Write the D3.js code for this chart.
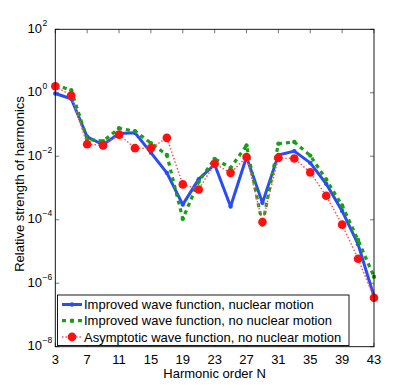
<!DOCTYPE html>
<html>
<head>
<meta charset="UTF-8">
<script src="https://d3js.org/d3.v7.min.js"></script>
<style>
  body { margin: 0; background: #fff; }
  svg text { font-family: "Liberation Sans", Arial, sans-serif; fill: #000; }
</style>
</head>
<body>
<div id="chart"></div>
<script>
// harmonic orders (odd)
const orders = [3,5,7,9,11,13,15,17,19,21,23,25,27,29,31,33,35,37,39,41,43];

// Improved wave function, nuclear motion
const blueVals = [0.95,0.65,0.041,0.023,0.052,0.055,0.013,0.003,3.0e-4,1.9e-3,5.5e-3,2.6e-4,9.5e-3,3.4e-4,0.011,0.0145,6.2e-3,1.35e-3,1.9e-4,1.7e-5,3.8e-7];
// Improved wave function, no nuclear motion
const greenVals = [1.8,1.2,0.034,0.03,0.076,0.062,0.026,0.011,1.07e-4,1.6e-3,8.3e-3,4.3e-3,0.022,7.0e-5,0.025,0.028,0.0105,1.85e-3,2.8e-4,2.3e-5,1.6e-6];
// Asymptotic wave function, no nuclear motion
const redVals = [1.6,0.82,0.024,0.022,0.048,0.018,0.018,0.038,1.3e-3,9.0e-4,5.8e-3,3.0e-3,9.5e-3,8.5e-5,8.9e-3,8.5e-3,3.1e-3,5.7e-4,7.0e-5,5.9e-6,3.5e-7];

const xTicks = [3,7,11,15,19,23,27,31,35,39,43];
const yExps = [2,0,-2,-4,-6,-8];
const legendLabels = [
  "Improved wave function, nuclear motion",
  "Improved wave function, no nuclear motion",
  "Asymptotic wave function, no nuclear motion"
];

const width = 415, height = 392;
const margin = {left: 55.3, right: 41, top: 29.3, bottom: 45.3};
const fs = 13;

const svg = d3.select("#chart").append("svg")
  .attr("width", width).attr("height", height);

const x = d3.scaleLinear().domain([3, 43]).range([margin.left, width - margin.right]);
const y = d3.scaleLog().domain([1e-8, 1e2]).range([height - margin.bottom, margin.top]);

const x0 = x.range()[0], x1 = x.range()[1];
const y0 = y.range()[0], y1 = y.range()[1];

// ticks (inside, on all four sides)
const tl = 4;
const ticks = svg.append("g").attr("stroke", "#555").attr("stroke-width", 0.8);
xTicks.forEach(t => {
  ticks.append("line").attr("x1", x(t)).attr("x2", x(t)).attr("y1", y0).attr("y2", y0 - tl);
  ticks.append("line").attr("x1", x(t)).attr("x2", x(t)).attr("y1", y1).attr("y2", y1 + tl);
});
yExps.forEach(e => {
  const v = Math.pow(10, e);
  ticks.append("line").attr("x1", x0).attr("x2", x0 + tl).attr("y1", y(v)).attr("y2", y(v));
  ticks.append("line").attr("x1", x1).attr("x2", x1 - tl).attr("y1", y(v)).attr("y2", y(v));
});

// tick labels
svg.append("g").selectAll("text").data(xTicks).join("text")
  .attr("x", d => x(d)).attr("y", y0 + 17)
  .attr("text-anchor", "middle").attr("font-size", fs)
  .text(d => d);

const yl = svg.append("g");
yExps.forEach(e => {
  const by = y(Math.pow(10, e)) + 3.6;
  yl.append("text").attr("x", 42).attr("y", by)
    .attr("text-anchor", "end").attr("font-size", fs).text("10");
  yl.append("text").attr("x", 42.5).attr("y", by - 7.2)
    .attr("font-size", 8.5).text(String(e).replace("-", "\u2212"));
});

// axis titles
svg.append("text").attr("x", (x0 + x1) / 2).attr("y", y0 + 31)
  .attr("text-anchor", "middle").attr("font-size", fs).text("Harmonic order N");
svg.append("text")
  .attr("transform", `translate(24,184) rotate(-90)`)
  .attr("text-anchor", "middle").attr("font-size", fs)
  .text("Relative strength of harmonics");

const plot = svg.append("g");

const line = d3.line().x(d => x(d[0])).y(d => y(d[1]));
const series = [
  {vals: blueVals, color: "#2a4cf5", width: 3, dash: null, r: 2.2},
  {vals: greenVals, color: "#1a9e1a", width: 3.2, dash: "4,4", r: 2.2},
  {vals: redVals, color: "#ff5555", width: 1.5, dash: "1.5,2", r: 4.3, fill: "#ff1010"}
];
series.forEach(s => {
  const pts = orders.map((o, i) => [o, s.vals[i]]);
  plot.append("path").datum(pts)
    .attr("d", line).attr("fill", "none")
    .attr("stroke", s.color).attr("stroke-width", s.width)
    .attr("stroke-dasharray", s.dash)
    .attr("stroke-linejoin", "round");
  plot.selectAll(null).data(pts).join("circle")
    .attr("cx", d => x(d[0])).attr("cy", d => y(d[1])).attr("r", s.r)
    .attr("fill", s.fill || s.color);
});

// frame
svg.append("rect").attr("x", x0).attr("y", y1)
  .attr("width", x1 - x0).attr("height", y0 - y1)
  .attr("fill", "none").attr("stroke", "#000").attr("stroke-width", 0.9);

// legend
const lg = svg.append("g");
lg.append("rect").attr("x", 57.5).attr("y", 295).attr("width", 291.5).attr("height", 50.5)
  .attr("fill", "#fff").attr("stroke", "#000").attr("stroke-width", 0.9);
legendLabels.forEach((lab, i) => {
  const s = series[i];
  const ly = 304.5 + i * 16.2;
  lg.append("line").attr("x1", 62).attr("x2", 82).attr("y1", ly).attr("y2", ly)
    .attr("stroke", s.color).attr("stroke-width", s.width)
    .attr("stroke-dasharray", s.dash);
  lg.append("circle").attr("cx", 72).attr("cy", ly).attr("r", s.r).attr("fill", s.fill || s.color);
  lg.append("text").attr("x", 84).attr("y", ly + 4.6).attr("font-size", fs).text(lab);
});
</script>
</body>
</html>
